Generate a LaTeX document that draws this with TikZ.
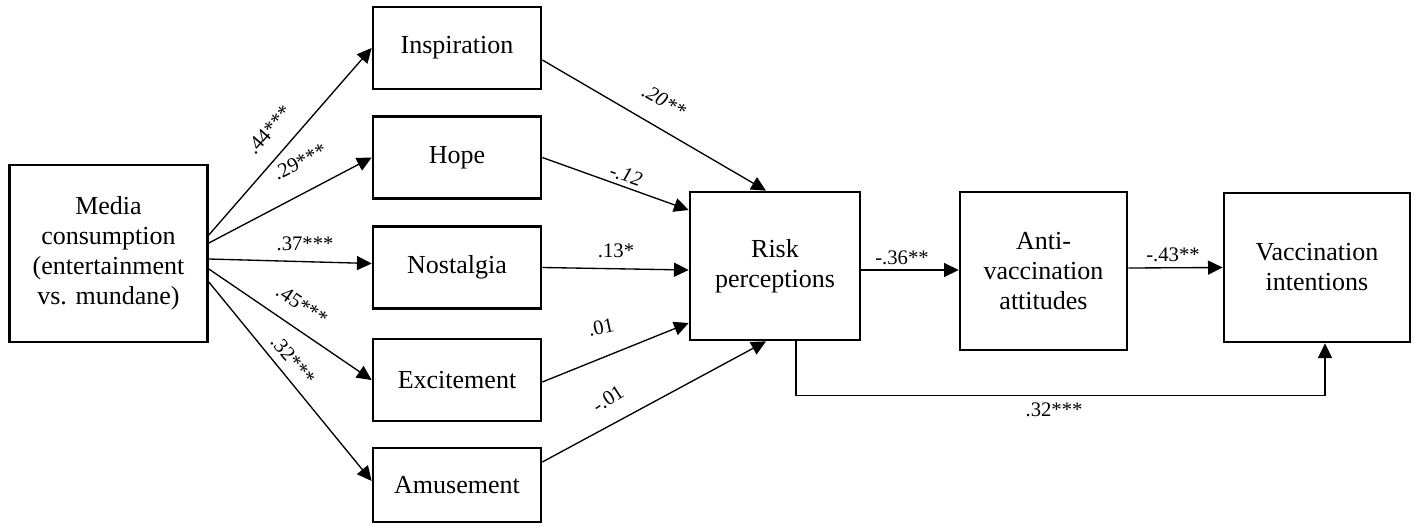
\documentclass[tikz,border=0pt]{standalone}
\usepackage{fontspec}
\setmainfont{Liberation Serif}
\usetikzlibrary{arrows.meta,calc}
\begin{document}
\begin{tikzpicture}[x=0.75pt,y=-0.75pt,
  box/.style={draw,line width=2pt,align=center,inner sep=0pt,font=\fontsize{19.5}{22.5}\selectfont},
  emo/.style={box,minimum width=126pt,minimum height=61.5pt},
  conn/.style={line width=1pt,-{Triangle[length=11pt,width=10.5pt]}},
  lab/.style={font=\fontsize{15.5}{17}\selectfont,inner sep=0pt},
]
\useasboundingbox (0,0) rectangle (1420,525);
% boxes
\node[box,minimum width=148.5pt,minimum height=132.75pt] (media) at (108.5,253.5) {Media\\consumption\\(entertainment\\vs. mundane)};
\node[emo] (insp) at (457,48) {Inspiration};
\node[emo] (hope) at (457,157.5) {Hope};
\node[emo] (nost) at (457,267.5) {Nostalgia};
\node[emo] (exc) at (457,380) {Excitement};
\node[emo,minimum height=55.5pt] (amus) at (457,485) {Amusement};
\node[box,minimum width=127.5pt,minimum height=111pt] (risk) at (775,266) {Risk\\perceptions};
\node[box,minimum width=125.25pt,minimum height=118.5pt] (anti) at (1043.5,271) {Anti-\\vaccination\\attitudes};
\node[box,minimum width=139.5pt,minimum height=111.75pt] (vacc) at (1317,267.5) {Vaccination\\intentions};
% media -> emotions
\draw[conn] ($(media.east)+(0,-18.5)$) -- (insp.west);
\draw[conn] ($(media.east)+(0,-10.5)$) -- (hope.west);
\draw[conn] ($(media.east)+(0,5.5)$) -- ($(nost.west)+(0,-4)$);
\draw[conn] ($(media.east)+(0,15.5)$) -- (exc.west);
\draw[conn] ($(media.east)+(0,28.5)$) -- ($(amus.west)+(0,-4)$);
% emotions -> risk
\draw[conn] ($(insp.east)+(0,12)$) -- ($(risk.north)+(-9,0)$);
\draw[conn] (hope.east) -- ($(risk.west)+(0,-56)$);
\draw[conn] (nost.east) -- ($(risk.west)+(0,4)$);
\draw[conn] ($(exc.east)+(0,2)$) -- ($(risk.west)+(0,57)$);
\draw[conn] ($(amus.east)+(0,-23)$) -- ($(risk.south)+(-9,0)$);
% chain
\draw[conn] ($(risk.east)+(0,4)$) -- ($(anti.west)+(0,-1)$);
\draw[conn] ($(anti.east)+(0,-3)$) -- (vacc.west);
\coordinate (c1) at ($(vacc.south)+(8,52)$);
\draw[conn] ($(risk.south)+(21,0)$) |- (c1) -- ($(vacc.south)+(8,0)$);
% labels
\node[lab,rotate=48.6] (l1) at (269,130) {.44***};
\node[lab,rotate=27] (l2) at (300,162) {.29***};
\node[lab] (l3) at (305,244) {.37***};
\node[lab,rotate=-34] (l4) at (302,305) {.45***};
\node[lab,rotate=-50] (l5) at (293,360) {.32***};
\node[lab,rotate=-30] (l6) at (664,101) {\textit{.20**}};
\node[lab,rotate=-19] (l7) at (626,175) {\textit{-.12}};
\node[lab] (l8) at (616,251) {.13*};
\node[lab,rotate=12] (l9) at (601,327) {.01};
\node[lab,rotate=33] (l10) at (608,399) {-.01};
\node[lab] (l11) at (902,258) {-.36**};
\node[lab] (l12) at (1173,255) {-.43**};
\node[lab] (l13) at (1054,410) {.32***};
\end{tikzpicture}
\end{document}
